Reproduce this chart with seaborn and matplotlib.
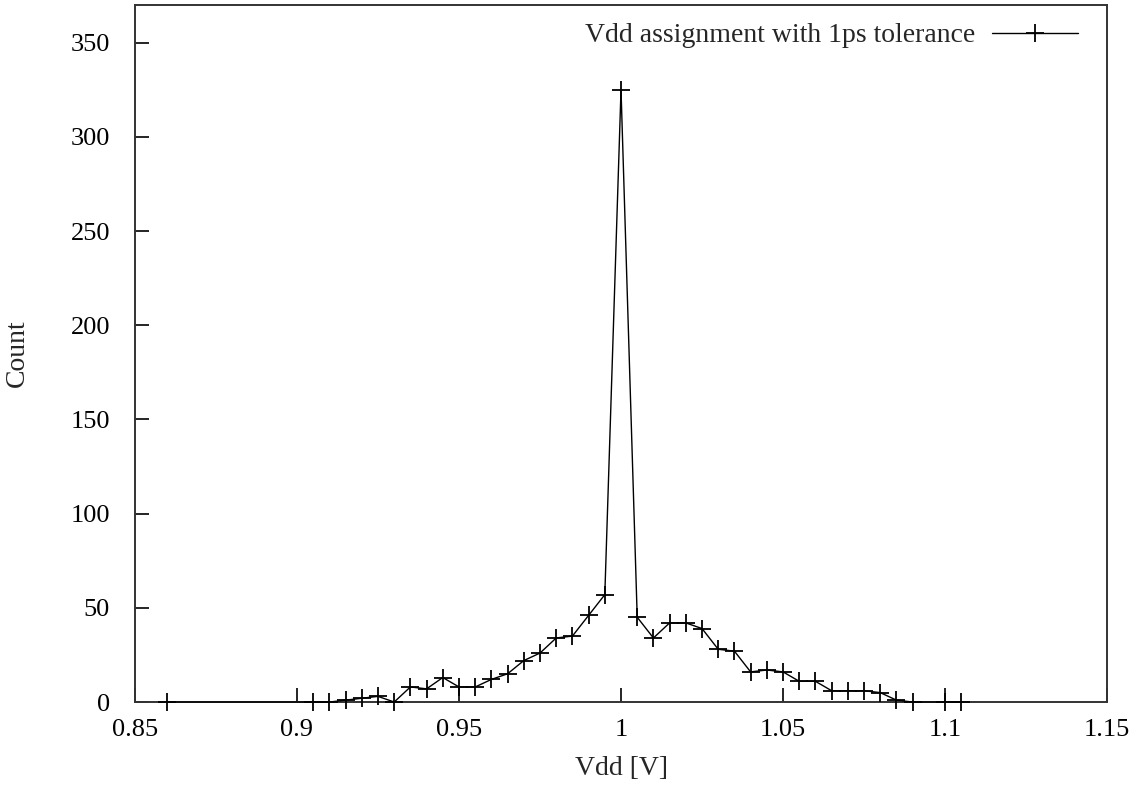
import matplotlib
matplotlib.use("Agg")
import matplotlib.pyplot as plt
import seaborn as sns
import pandas as pd

# Histogram of assigned supply voltages (bin centre in V, count per bin)
vdd = [0.86, 0.905, 0.91, 0.915, 0.92, 0.925, 0.93, 0.935, 0.94, 0.945,
       0.95, 0.955, 0.96, 0.965, 0.97, 0.975, 0.98, 0.985, 0.99, 0.995,
       1.0, 1.005, 1.01, 1.015, 1.02, 1.025, 1.03, 1.035, 1.04, 1.045,
       1.05, 1.055, 1.06, 1.065, 1.07, 1.075, 1.08, 1.085, 1.09, 1.1, 1.105]
count = [0, 0, 0, 1, 2, 3, 0, 8, 7, 13,
         8, 8, 12, 15, 22, 26, 34, 35, 46, 57,
         325, 45, 34, 42, 42, 39, 28, 27, 16, 17,
         16, 11, 11, 6, 6, 6, 5, 1, 0, 0, 0]
series_label = "Vdd assignment with 1ps tolerance"
x_ticks = [0.85, 0.9, 0.95, 1.0, 1.05, 1.1, 1.15]
x_tick_labels = ["0.85", "0.9", "0.95", "1", "1.05", "1.1", "1.15"]
y_ticks = [0, 50, 100, 150, 200, 250, 300, 350]

df = pd.DataFrame({"Vdd": vdd, "Count": count})

sns.set_style("ticks")
plt.rcParams["font.family"] = ["Liberation Serif", "DejaVu Serif"]
plt.rcParams["font.size"] = 19

fig = plt.figure(figsize=(11.4, 7.88), dpi=100)
ax = fig.add_axes([0.1184, 0.1091, 0.9711 - 0.1184, 0.9937 - 0.1091])

sns.lineplot(data=df, x="Vdd", y="Count", ax=ax, color="black",
             linewidth=1.0, marker="+", markersize=12.5,
             markeredgewidth=1.3, markeredgecolor="black",
             label=series_label)
for ln in ax.lines:
    ln.set_clip_on(False)
    ln.set_zorder(5)

ax.set_xlim(0.85, 1.15)
ax.set_ylim(0, 370)
ax.set_xticks(x_ticks)
ax.set_xticklabels(x_tick_labels)
ax.set_yticks(y_ticks)
ax.tick_params(direction="in", length=10, width=1.2, colors="black",
               labelsize=19, top=False, right=False)
ax.tick_params(axis="y", pad=18)
ax.tick_params(axis="x", pad=12)

for side in ax.spines.values():
    side.set_linewidth(1.4)
    side.set_color("#333333")
    side.set_visible(True)

ax.set_xlabel("Vdd [V]", fontsize=20)
ax.set_ylabel("Count", fontsize=20)
ax.xaxis.set_label_coords(0.5, -0.078)
ax.yaxis.set_label_coords(-0.108, 0.5)

leg = ax.legend(loc="upper right", frameon=False, markerfirst=False,
                handlelength=3.1, handletextpad=0.6, fontsize=20,
                borderaxespad=0.3, bbox_to_anchor=(0.99, 1.002))

fig.savefig("out.png", dpi=100, facecolor="white")
